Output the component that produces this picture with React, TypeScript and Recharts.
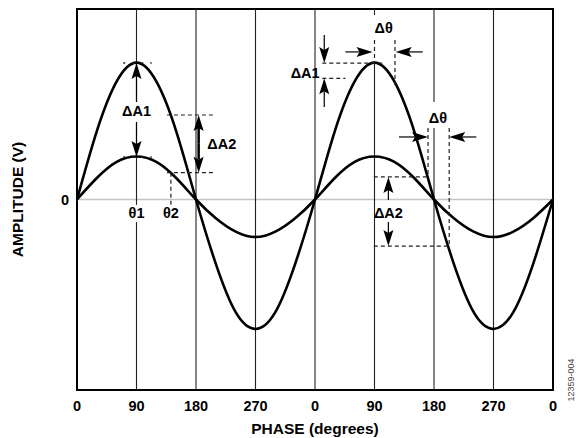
import {
  LineChart,
  Line,
  XAxis,
  YAxis,
  ReferenceLine,
  ReferenceDot,
  ReferenceArea,
} from 'recharts'

// phase in degrees, sampled every 30 deg across two full cycles
const phase = [
  0, 30, 60, 90, 120, 150, 180, 210, 240, 270, 300, 330,
  360, 390, 420, 450, 480, 510, 540, 570, 600, 630, 660, 690, 720,
]
const bigWave = [
  0, 0.51, 0.88, 1.02, 0.88, 0.51, 0, -0.48, -0.84, -0.965, -0.84, -0.48,
  0, 0.51, 0.88, 1.02, 0.88, 0.51, 0, -0.48, -0.84, -0.965, -0.84, -0.48, 0,
]
const smallWave = [
  0, 0.16, 0.28, 0.32, 0.28, 0.16, 0, -0.14, -0.24, -0.28, -0.24, -0.14,
  0, 0.16, 0.28, 0.32, 0.28, 0.16, 0, -0.14, -0.24, -0.28, -0.24, -0.14, 0,
]
const xTicks = [0, 90, 180, 270, 360, 450, 540, 630, 720]
const xTickLabels = ['0', '90', '180', '270', '0', '90', '180', '270', '0']

const Y_MIN = -1.42
const Y_MAX = 1.42

// vertical grid lines, some broken around the annotation labels
const gridSegments = [
  { x: 90, from: Y_MAX, to: 0.727 },
  { x: 90, from: 0.578, to: -0.04 },
  { x: 90, from: -0.168, to: Y_MIN },
  { x: 180, from: Y_MAX, to: Y_MIN },
  { x: 270, from: Y_MAX, to: Y_MIN },
  { x: 360, from: Y_MAX, to: Y_MIN },
  { x: 450, from: Y_MAX, to: 1.375 },
  { x: 450, from: 1.017, to: Y_MIN },
  { x: 540, from: Y_MAX, to: 0.727 },
  { x: 540, from: 0.533, to: Y_MIN },
  { x: 630, from: Y_MAX, to: Y_MIN },
]

// arrows: tail (x1, y1) -> tip (x2, y2)
const arrows = [
  { x1: 90, y1: 0.727, x2: 90, y2: 1.017, w: 1.2 },
  { x1: 90, y1: 0.578, x2: 90, y2: 0.317, w: 1.2 },
  { x1: 184, y1: 0.415, x2: 184, y2: 0.63, w: 2.5 },
  { x1: 184, y1: 0.415, x2: 184, y2: 0.2, w: 2.5 },
  { x1: 374, y1: 1.226, x2: 374, y2: 1.017, w: 1.2 },
  { x1: 374, y1: 0.69, x2: 374, y2: 0.903, w: 1.2 },
  { x1: 406, y1: 1.1, x2: 447, y2: 1.1, w: 1.2 },
  { x1: 523, y1: 1.1, x2: 482, y2: 1.1, w: 1.2 },
  { x1: 487, y1: 0.466, x2: 531, y2: 0.466, w: 1.2 },
  { x1: 604, y1: 0.466, x2: 563, y2: 0.466, w: 1.2 },
  { x1: 471, y1: -0.004, x2: 471, y2: 0.168, w: 1.2 },
  { x1: 471, y1: -0.168, x2: 471, y2: -0.347, w: 1.2 },
]

const dashed = [
  { x1: 136, y1: 0.63, x2: 209, y2: 0.63 },
  { x1: 136, y1: 0.2, x2: 209, y2: 0.2 },
  { x1: 142, y1: 0.2, x2: 142, y2: -0.04 },
  { x1: 450, y1: 1.189, x2: 450, y2: 1.017 },
  { x1: 481, y1: 1.189, x2: 481, y2: 0.853 },
  { x1: 371, y1: 1.017, x2: 462, y2: 1.017 },
  { x1: 371, y1: 0.903, x2: 406, y2: 0.903 },
  { x1: 531, y1: 0.533, x2: 531, y2: 0.168 },
  { x1: 563, y1: 0.533, x2: 563, y2: -0.347 },
  { x1: 449, y1: 0.168, x2: 531, y2: 0.168 },
  { x1: 449, y1: -0.347, x2: 563, y2: -0.347 },
]

const dotted = [
  { x1: 70, y1: 1.017, x2: 113, y2: 1.017 },
  { x1: 70, y1: 0.317, x2: 113, y2: 0.317 },
]

const labels = [
  { text: 'ΔA1', x: 90, y: 0.66, anchor: 'middle' },
  { text: 'ΔA2', x: 197, y: 0.415, anchor: 'start' },
  { text: 'θ1', x: 90, y: -0.1, anchor: 'middle' },
  { text: 'θ2', x: 142, y: -0.1, anchor: 'middle' },
  { text: 'Δθ', x: 464, y: 1.278, anchor: 'middle' },
  { text: 'ΔA1', x: 367, y: 0.943, anchor: 'end' },
  { text: 'Δθ', x: 546, y: 0.607, anchor: 'middle' },
  { text: 'ΔA2', x: 471, y: -0.1, anchor: 'middle' },
]

const data = phase.map((p, i) => ({ phase: p, big: bigWave[i], small: smallWave[i] }))

const FONT = 'Liberation Sans, Arial, Helvetica, sans-serif'

function arrowShape(w: number) {
  return (p: any) => {
    const { x1, y1, x2, y2 } = p
    const dx = x2 - x1
    const dy = y2 - y1
    const len = Math.hypot(dx, dy) || 1
    const ux = dx / len
    const uy = dy / len
    const hl = Math.min(16, len)
    const hw = 5
    const bx = x2 - ux * hl
    const by = y2 - uy * hl
    const nx = bx + ux * 3
    const ny = by + uy * 3
    return (
      <g>
        <line x1={x1} y1={y1} x2={nx} y2={ny} stroke="#000" strokeWidth={w} />
        <polygon
          points={`${x2},${y2} ${bx - uy * hw},${by + ux * hw} ${nx},${ny} ${bx + uy * hw},${by - ux * hw}`}
          fill="#000"
        />
      </g>
    )
  }
}

function XTitle(props: any) {
  const vb = props.viewBox || { x: 77, y: 390, width: 476, height: 48 }
  return (
    <g>
      <text
        x={vb.x + vb.width / 2}
        y={vb.y + 44}
        textAnchor="middle"
        fontSize={15.5}
        fontWeight="bold"
        fill="#000"
        fontFamily={FONT}
      >
        PHASE (degrees)
      </text>
      <text
        x={0}
        y={0}
        transform={`translate(${vb.x + vb.width + 21}, ${vb.y - 10}) rotate(-90)`}
        textAnchor="middle"
        fontSize={9}
        fill="#444"
        fontFamily={FONT}
      >
        12359-004
      </text>
    </g>
  )
}

function YTitle(props: any) {
  const vb = props.viewBox || { x: 0, y: 9, width: 77, height: 381 }
  const cx = vb.x + 18
  const cy = vb.y + vb.height / 2
  return (
    <text
      x={0}
      y={0}
      transform={`translate(${cx}, ${cy}) rotate(-90)`}
      textAnchor="middle"
      dy="0.35em"
      fontSize={15.5}
      fontWeight="bold"
      fill="#000"
      fontFamily={FONT}
    >
      AMPLITUDE (V)
    </text>
  )
}

export default function App() {
  return (
    <div style={{ position: 'absolute', left: 0, top: 0, fontFamily: FONT, background: '#fff' }}>
      <LineChart width={586} height={438} data={data} margin={{ top: 9, right: 33, bottom: 0, left: 0 }}>
        <XAxis
          dataKey="phase"
          type="number"
          domain={[0, 720]}
          ticks={xTicks}
          interval={0}
          tickFormatter={(v: number) => xTickLabels[xTicks.indexOf(v)]}
          axisLine={false}
          tickLine={false}
          tickSize={0}
          tickMargin={11}
          height={48}
          tick={{ fontSize: 14.5, fontWeight: 'bold', fill: '#000' }}
          label={{ content: (p: any) => <XTitle {...p} /> }}
        />
        <YAxis
          type="number"
          domain={[Y_MIN, Y_MAX]}
          ticks={[0]}
          width={77}
          axisLine={false}
          tickLine={false}
          tickSize={0}
          tickMargin={8}
          tick={{ fontSize: 14.5, fontWeight: 'bold', fill: '#000' }}
          label={{ content: (p: any) => <YTitle {...p} /> }}
        />

        <ReferenceLine y={0} stroke="#c4c4c4" strokeWidth={1.5} ifOverflow="visible" />
        {gridSegments.map((g, i) => (
          <ReferenceLine
            key={`g${i}`}
            segment={[{ x: g.x, y: g.from }, { x: g.x, y: g.to }]}
            stroke="#222"
            strokeWidth={1.1}
            ifOverflow="visible"
          />
        ))}

        <Line
          type="natural"
          dataKey="big"
          stroke="#000"
          strokeWidth={2.6}
          dot={false}
          isAnimationActive={false}
        />
        <Line
          type="natural"
          dataKey="small"
          stroke="#000"
          strokeWidth={2.6}
          dot={false}
          isAnimationActive={false}
        />

        {dashed.map((d, i) => (
          <ReferenceLine
            key={`d${i}`}
            segment={[{ x: d.x1, y: d.y1 }, { x: d.x2, y: d.y2 }]}
            stroke="#222"
            strokeWidth={1.2}
            strokeDasharray="4 3"
            ifOverflow="visible"
          />
        ))}
        {dotted.map((d, i) => (
          <ReferenceLine
            key={`o${i}`}
            segment={[{ x: d.x1, y: d.y1 }, { x: d.x2, y: d.y2 }]}
            stroke="#222"
            strokeWidth={1.6}
            strokeDasharray="2 7"
            ifOverflow="visible"
          />
        ))}
        {arrows.map((a, i) => (
          <ReferenceLine
            key={`a${i}`}
            segment={[{ x: a.x1, y: a.y1 }, { x: a.x2, y: a.y2 }]}
            shape={arrowShape(a.w)}
            ifOverflow="visible"
          />
        ))}
        {labels.map((l, i) => (
          <ReferenceDot
            key={`l${i}`}
            x={l.x}
            y={l.y}
            r={0}
            ifOverflow="visible"
            shape={(p: any) => (
              <text
                x={p.cx}
                y={p.cy}
                dy="0.35em"
                textAnchor={l.anchor}
                fontSize={14.5}
                fontWeight="bold"
                fill="#000"
                fontFamily={FONT}
              >
                {l.text}
              </text>
            )}
          />
        ))}

        <ReferenceArea
          x1={0}
          x2={720}
          y1={Y_MIN}
          y2={Y_MAX}
          fill="none"
          stroke="#000"
          strokeWidth={2}
          ifOverflow="visible"
        />
      </LineChart>
    </div>
  )
}
